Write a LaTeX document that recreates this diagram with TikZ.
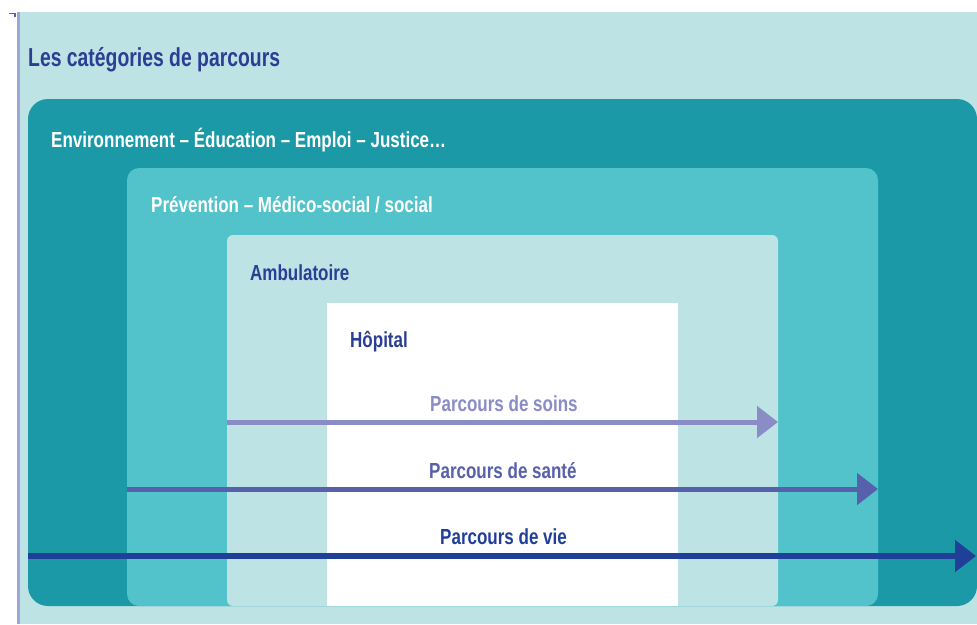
\documentclass[tikz,border=0pt]{standalone}
\usepackage{fontspec}
\setmainfont{Liberation Sans}
\newfontfamily\cond[FakeStretch=0.78]{Liberation Sans}
\newfontfamily\titlefont[FakeStretch=0.745]{Liberation Sans}
\usetikzlibrary{arrows.meta}
\definecolor{bglight}{HTML}{BDE3E5}
\definecolor{tealdark}{HTML}{1B99A7}
\definecolor{tealmid}{HTML}{52C3CA}
\definecolor{navy}{HTML}{2A3F93}
\definecolor{soinsc}{HTML}{8A8CC6}
\definecolor{santec}{HTML}{5660AB}
\definecolor{viec}{HTML}{1F3F99}
\definecolor{edgeline}{HTML}{9DA7D6}
\tikzset{
  lbl/.style={anchor=base west, inner sep=0pt, font=\cond\bfseries\fontsize{21.8}{24}\selectfont},
  path/.style={line width=5pt, -{Triangle[length=21pt,width=31pt]}},
}
\begin{document}
\begin{tikzpicture}[x=1pt,y=-1pt]
\useasboundingbox (0,0) rectangle (977,624);
\fill[white] (0,0) rectangle (977,624);
% background panel
\fill[bglight] (19,12) rectangle (977,624);
\draw[edgeline, line width=2.5pt] (18.5,12) -- (18.5,624);
\draw[navy!80, line width=1.5pt] (9,13.5) -- (15,13.5) -- (15,17);
% nested boxes
\fill[tealdark, rounded corners=20pt] (28,99) rectangle (977,606);
\fill[tealmid, rounded corners=12pt] (127,168) rectangle (878,606);
\fill[bglight, rounded corners=6pt] (227,235) rectangle (778,606);
\fill[white] (327,303) rectangle (678,606);
% named coordinates for arrows
\coordinate (soinsA) at (227,422);
\coordinate (soinsB) at (778,422);
\coordinate (santeA) at (127,489);
\coordinate (santeB) at (878,489);
\coordinate (vieA) at (28,556);
\coordinate (vieB) at (976,556);
\draw[path, soinsc] (soinsA) -- (soinsB);
\draw[path, santec] (santeA) -- (santeB);
\draw[path, viec, line width=5.5pt] (vieA) -- (vieB);
% texts
\node[anchor=base west, inner sep=0pt, text=navy, font=\titlefont\bfseries\fontsize{26}{30}\selectfont] (title) at (28,66) {Les catégories de parcours};
\node[lbl, text=white] (env) at (51,147) {Environnement – Éducation – Emploi – Justice…};
\node[lbl, text=white] (prev) at (151,212) {Prévention – Médico-social / social};
\node[lbl, text=navy] (amb) at (250,280) {Ambulatoire};
\node[lbl, text=navy] (hop) at (350,347) {Hôpital};
\node[lbl, text=soinsc] (tsoins) at (430,411) {Parcours de soins};
\node[lbl, text=santec] (tsante) at (429,478) {Parcours de santé};
\node[lbl, text=viec] (tvie) at (440,544) {Parcours de vie};
\end{tikzpicture}
\end{document}
